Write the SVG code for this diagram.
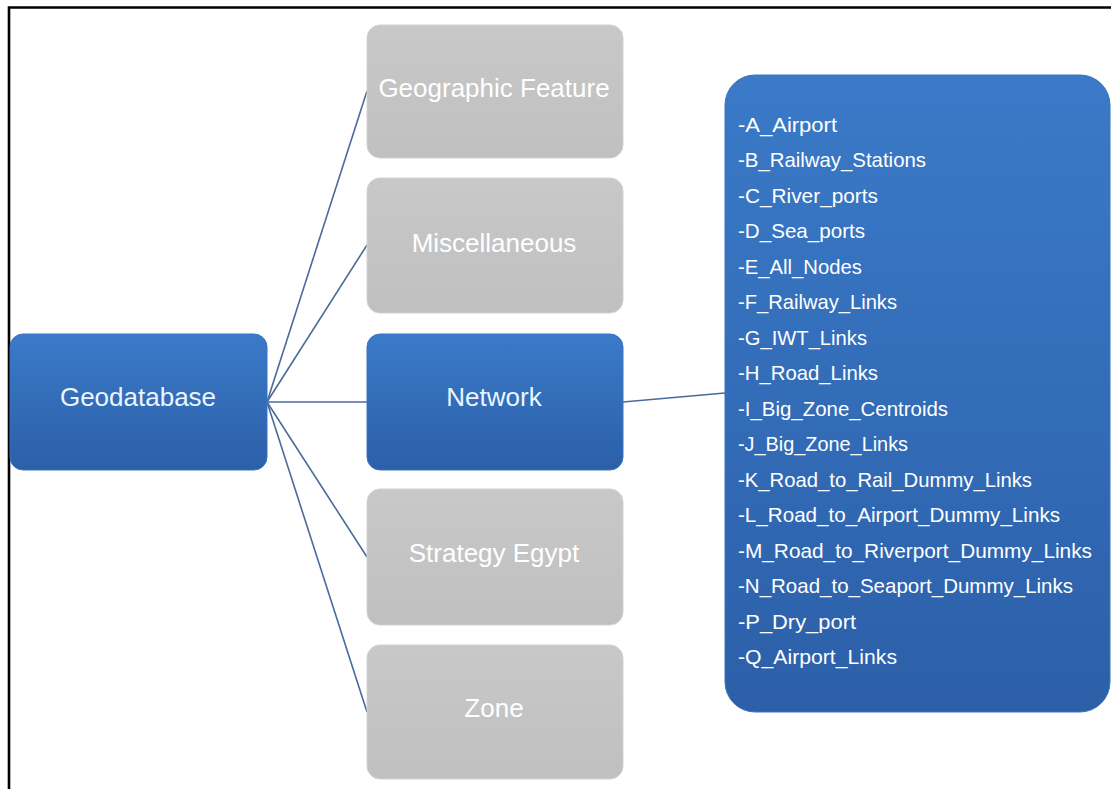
<svg xmlns="http://www.w3.org/2000/svg" width="1111" height="789" viewBox="0 0 1111 789">
  <style>
    .blue { fill: url(#blueGrad); stroke: #3a74c0; stroke-width: 1; }
    .gray { fill: url(#grayGrad); stroke: #d2d2d2; stroke-width: 1; }
    .label { font-family: "Liberation Sans", Arial, sans-serif; font-size: 26px; text-anchor: middle; }
    .onblue { fill: #eaf6ff; }
    .ongray { fill: #ffffff; }
    .item { font-family: "Liberation Sans", Arial, sans-serif; font-size: 21px; fill: #ffffff; }
    .link { stroke: #4a6a9c; stroke-width: 1.6; fill: none; }
  </style>
  <defs>
    <linearGradient id="blueGrad" x1="0" y1="0" x2="0" y2="1">
      <stop offset="0" stop-color="#3a7ac8"/>
      <stop offset="1" stop-color="#2c5fa8"/>
    </linearGradient>
    <linearGradient id="grayGrad" x1="0" y1="0" x2="0" y2="1">
      <stop offset="0" stop-color="#c8c8c8"/>
      <stop offset="1" stop-color="#c0c0c0"/>
    </linearGradient>
  </defs>

  <rect width="1111" height="789" fill="#ffffff"/>
  <!-- frame: only top and left edges fall inside the canvas -->
  <path d="M9 800 V7.5 H1120" fill="none" stroke="#000000" stroke-width="2.6"/>

  <g id="connectors">
    <line class="link" x1="267" y1="402" x2="367" y2="91"/>
    <line class="link" x1="267" y1="402" x2="367" y2="245"/>
    <line class="link" x1="267" y1="402" x2="367" y2="402"/>
    <line class="link" x1="267" y1="402" x2="367" y2="557"/>
    <line class="link" x1="267" y1="402" x2="367" y2="712"/>
    <line class="link" x1="623" y1="402" x2="725" y2="393"/>
  </g>

  <g id="geodatabase">
    <rect class="blue" x="10" y="334" width="257" height="136" rx="13"/>
    <text class="label onblue" x="138" y="406">Geodatabase</text>
  </g>

  <g id="geographic-feature">
    <rect class="gray" x="367" y="25" width="256" height="133" rx="13"/>
    <text class="label ongray" x="494" y="97">Geographic Feature</text>
  </g>

  <g id="miscellaneous">
    <rect class="gray" x="367" y="178" width="256" height="135" rx="13"/>
    <text class="label ongray" x="494" y="252">Miscellaneous</text>
  </g>

  <g id="network">
    <rect class="blue" x="367" y="334" width="256" height="136" rx="13"/>
    <text class="label onblue" x="494" y="406">Network</text>
  </g>

  <g id="strategy-egypt">
    <rect class="gray" x="367" y="489" width="256" height="136" rx="13"/>
    <text class="label ongray" x="494" y="562">Strategy Egypt</text>
  </g>

  <g id="zone">
    <rect class="gray" x="367" y="645" width="256" height="134" rx="13"/>
    <text class="label ongray" x="494" y="717">Zone</text>
  </g>

  <g id="network-layers">
    <rect class="blue" x="725" y="75" width="385" height="637" rx="30"/>
    <text class="item" x="738" y="131.5" textLength="99" lengthAdjust="spacingAndGlyphs">-A_Airport</text>
    <text class="item" x="738" y="167" textLength="188" lengthAdjust="spacingAndGlyphs">-B_Railway_Stations</text>
    <text class="item" x="738" y="202.5" textLength="140" lengthAdjust="spacingAndGlyphs">-C_River_ports</text>
    <text class="item" x="738" y="238" textLength="127" lengthAdjust="spacingAndGlyphs">-D_Sea_ports</text>
    <text class="item" x="738" y="273.5" textLength="124" lengthAdjust="spacingAndGlyphs">-E_All_Nodes</text>
    <text class="item" x="738" y="309" textLength="159" lengthAdjust="spacingAndGlyphs">-F_Railway_Links</text>
    <text class="item" x="738" y="344.5" textLength="129" lengthAdjust="spacingAndGlyphs">-G_IWT_Links</text>
    <text class="item" x="738" y="380" textLength="140" lengthAdjust="spacingAndGlyphs">-H_Road_Links</text>
    <text class="item" x="738" y="415.5" textLength="210" lengthAdjust="spacingAndGlyphs">-I_Big_Zone_Centroids</text>
    <text class="item" x="738" y="451" textLength="170" lengthAdjust="spacingAndGlyphs">-J_Big_Zone_Links</text>
    <text class="item" x="738" y="486.5" textLength="294" lengthAdjust="spacingAndGlyphs">-K_Road_to_Rail_Dummy_Links</text>
    <text class="item" x="738" y="522" textLength="322" lengthAdjust="spacingAndGlyphs">-L_Road_to_Airport_Dummy_Links</text>
    <text class="item" x="738" y="557.5" textLength="354" lengthAdjust="spacingAndGlyphs">-M_Road_to_Riverport_Dummy_Links</text>
    <text class="item" x="738" y="593" textLength="335" lengthAdjust="spacingAndGlyphs">-N_Road_to_Seaport_Dummy_Links</text>
    <text class="item" x="738" y="628.5" textLength="118" lengthAdjust="spacingAndGlyphs">-P_Dry_port</text>
    <text class="item" x="738" y="664" textLength="159" lengthAdjust="spacingAndGlyphs">-Q_Airport_Links</text>
  </g>
</svg>
